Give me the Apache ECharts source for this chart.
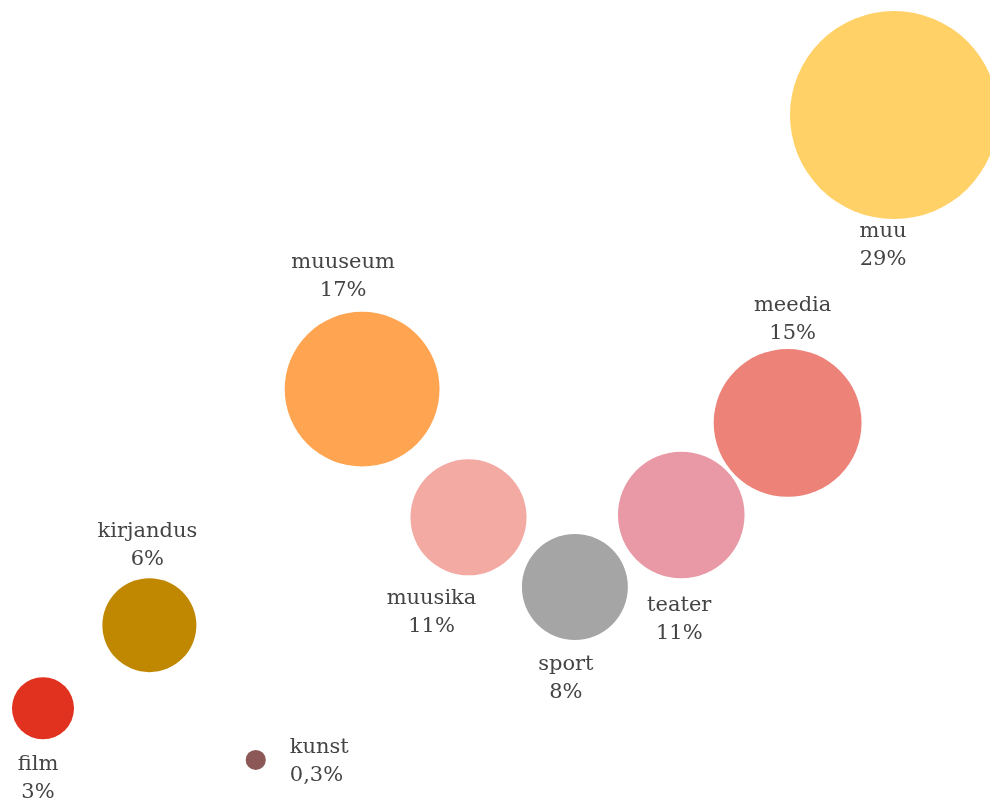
<!DOCTYPE html>
<html>
<head>
<meta charset="utf-8">
<script src="https://cdn.jsdelivr.net/npm/echarts@6/dist/echarts.min.js"></script>
<style>html,body{margin:0;padding:0;background:#fff}#c{width:990px;height:802px}</style>
</head>
<body>
<div id="c"></div>
<script>
const categories = ['film', 'kirjandus', 'kunst', 'muuseum', 'muusika', 'sport', 'teater', 'meedia', 'muu'];
const shares = [2.6, 6.3, 0.3, 16.8, 11.1, 8.0, 11.2, 15.3, 29.0];
const bubbleSizes = [2.57, 5.9, 0.27, 16.0, 9.0, 7.5, 10.7, 14.6, 28.9];
const shareLabels = ['3%', '6%', '0,3%', '17%', '11%', '8%', '11%', '15%', '29%'];
const colors = ['#E0321F', '#C08800', '#8B5757', '#FFA552', '#F2AAA3', '#A5A5A5', '#E899A5', '#EC8278', '#FFD166'];
const labelPlacement = {
  film: { position: 'bottom', distance: 11, offset: [-5, 0] },
  kirjandus: { position: 'top', distance: 5, offset: [-2, 0] },
  kunst: { position: 'right', distance: 24, align: 'left', offset: [0, 2] },
  muuseum: { position: 'top', distance: 7, offset: [-19, 0] },
  muusika: { position: 'bottom', distance: 9, offset: [-37, 0] },
  sport: { position: 'bottom', distance: 11, offset: [-9, 0] },
  teater: { position: 'bottom', distance: 13, offset: [-2, 0] },
  meedia: { position: 'top', distance: 1, offset: [5, 0] },
  muu: { position: 'bottom', distance: -2, offset: [-11, 0] }
};

const data = categories.map((name, i) => ({
  name: name,
  value: [i, shares[i], bubbleSizes[i]],
  itemStyle: { color: colors[i], opacity: 1 },
  label: labelPlacement[name]
}));

const chart = echarts.init(document.getElementById('c'));
chart.setOption({
  animation: false,
  grid: { left: 43, right: 96, top: 92.6, bottom: 35.3 },
  xAxis: { type: 'value', min: 0, max: 8, show: false },
  yAxis: { type: 'value', min: 0, max: 30, show: false },
  series: [{
    type: 'scatter',
    clip: false,
    data: data,
    symbolSize: function (val) { return Math.sqrt(val[2]) * 38.7; },
    label: {
      show: true,
      fontFamily: 'DejaVu Serif',
      fontSize: 21,
      color: '#444',
      lineHeight: 28,
      align: 'center',
      formatter: function (p) { return p.name + '\n' + shareLabels[p.dataIndex]; }
    },
    emphasis: { disabled: true }
  }]
});
</script>
</body>
</html>
